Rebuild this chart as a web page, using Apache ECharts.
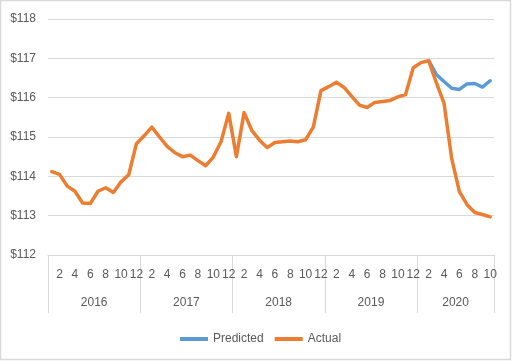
<!DOCTYPE html>
<html><head><meta charset="utf-8">
<script src="https://cdn.jsdelivr.net/npm/echarts@6/dist/echarts.min.js"></script>
<style>html,body{margin:0;padding:0;background:#fff}#c{width:512px;height:361px}</style>
</head><body><div id="c"></div>
<script>
// ---- data ----
const years = ['2016', '2017', '2018', '2019', '2020'];
const monthsPerYear = [12, 12, 12, 12, 10];
const monthTickLabels = ['2', '4', '6', '8', '10', '12'];
const actual = [
  114.12, 114.05, 113.75, 113.62, 113.32, 113.31, 113.62, 113.71, 113.59, 113.86, 114.04, 114.83,
  115.03, 115.25, 115.00, 114.76, 114.60, 114.50, 114.54, 114.40, 114.27, 114.49, 114.88, 115.60,
  114.50, 115.62, 115.17, 114.92, 114.73, 114.86, 114.88, 114.90, 114.88, 114.93, 115.25, 116.18,
  116.28, 116.39, 116.26, 116.03, 115.81, 115.75, 115.88, 115.90, 115.93, 116.02, 116.08, 116.76,
  116.89, 116.94, 116.38, 115.86, 114.45, 113.61, 113.28, 113.08, 113.03, 112.97
];
const predictedStartIndex = 49; // Feb 2020
const predicted = [116.94, 116.59, 116.41, 116.24, 116.21, 116.35, 116.36, 116.27, 116.43];
const yMin = 112, yMax = 118, yStep = 1;

// ---- derived ----
const categories = [], monthOf = [], yearOf = [], yearStarts = [], yearLabelIdx = [];
years.forEach((y, i) => {
  yearStarts.push(categories.length);
  yearLabelIdx.push(categories.length + Math.floor(monthsPerYear[i] / 2));
  for (let m = 1; m <= monthsPerYear[i]; m++) {
    categories.push(y + '-' + m); monthOf.push(m); yearOf.push(y);
  }
});
const predictedData = categories.map((c, i) =>
  (i >= predictedStartIndex && i - predictedStartIndex < predicted.length) ? predicted[i - predictedStartIndex] : null);

const W = 512, gridLeft = 48, gridRight = 18;
const band = (W - gridLeft - gridRight) / categories.length;
const txt = '#595959', gridC = '#d9d9d9', font = 'Liberation Sans';

const chart = echarts.init(document.getElementById('c'), null, {renderer: 'canvas'});
chart.setOption({
  animation: false,
  backgroundColor: '#fff',
  textStyle: {fontFamily: font},
  grid: {left: gridLeft, right: gridRight, top: 19, bottom: 106, containLabel: false},
  legend: {
    data: ['Predicted', 'Actual'], left: 175, top: 328,
    icon: 'rect', itemWidth: 28, itemHeight: 4, itemGap: 11,
    textStyle: {color: txt, fontSize: 12, fontFamily: font}
  },
  graphic: [{type: 'rect', shape: {x: 0.5, y: 0.5, width: 510, height: 359}, style: {fill: null, stroke: gridC, lineWidth: 1.5}, silent: true}],
  xAxis: [{
    type: 'category', data: categories, position: 'bottom', boundaryGap: true,
    axisLine: {show: true, onZero: false, lineStyle: {color: gridC, width: 1}},
    axisTick: {show: false},
    axisLabel: {
      interval: (idx) => monthTickLabels.includes(String(monthOf[idx])),
      formatter: (v, idx) => String(monthOf[idx]),
      color: txt, fontSize: 12, fontFamily: font, margin: 14
    },
    splitLine: {show: false}
  }, {
    type: 'category', data: categories, position: 'bottom', boundaryGap: true, offset: 0,
    axisLine: {show: false, onZero: false},
    axisTick: {show: true, interval: (idx) => yearStarts.includes(idx), length: 58, lineStyle: {color: gridC, width: 1}},
    axisLabel: {
      interval: (idx) => yearLabelIdx.includes(idx),
      formatter: (v, idx) => yearOf[idx],
      color: txt, fontSize: 12, fontFamily: font, margin: 42,
      padding: [0, band, 0, 0]
    },
    splitLine: {show: false}
  }],
  yAxis: {
    type: 'value', min: yMin, max: yMax, interval: yStep,
    axisLine: {show: false}, axisTick: {show: false},
    axisLabel: {formatter: (v) => '$' + v, color: txt, fontSize: 12, fontFamily: font, margin: 12},
    splitLine: {lineStyle: {color: gridC, width: 1}}
  },
  series: [{
    name: 'Predicted', type: 'line', data: predictedData, xAxisIndex: 0,
    showSymbol: false, symbol: 'none', connectNulls: false,
    lineStyle: {color: '#5B9BD5', width: 3.5, join: 'round', cap: 'round'},
    itemStyle: {color: '#5B9BD5'}
  }, {
    name: 'Actual', type: 'line', data: actual, xAxisIndex: 0,
    showSymbol: false, symbol: 'none',
    lineStyle: {color: '#ED7D31', width: 3.5, join: 'round', cap: 'round'},
    itemStyle: {color: '#ED7D31'}
  }]
});
</script></body></html>
